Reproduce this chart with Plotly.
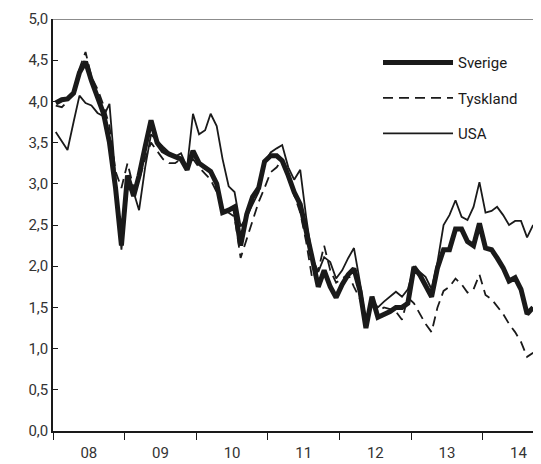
import pandas as pd
import plotly.graph_objects as go

# monthly observations, Jan 2008 - Sep 2014 (plotted mid-month)
months = [d + pd.Timedelta(days=14) for d in pd.date_range("2008-01-01", "2014-09-01", freq="MS")]

sverige = [3.98, 4.02, 4.03, 4.10, 4.35, 4.48, 4.25, 4.05, 3.85, 3.50, 2.95, 2.25,
           3.10, 2.85, 3.10, 3.45, 3.77, 3.50, 3.40, 3.36, 3.33, 3.30, 3.17, 3.40,
           3.25, 3.20, 3.15, 3.00, 2.65, 2.68, 2.72, 2.25, 2.63, 2.84, 2.95, 3.27,
           3.34, 3.34, 3.28, 3.10, 2.90, 2.75, 2.45, 2.10, 1.75, 1.95, 1.75, 1.62,
           1.78, 1.90, 1.97, 1.70, 1.25, 1.63, 1.38, 1.41, 1.45, 1.50, 1.50, 1.55,
           1.99, 1.89, 1.78, 1.63, 1.98, 2.20, 2.20, 2.45, 2.45, 2.30, 2.25, 2.52,
           2.22, 2.20, 2.10, 1.98, 1.82, 1.86, 1.72, 1.42, 1.50]

tyskland = [3.95, 3.93, 4.00, 4.12, 4.40, 4.60, 4.30, 4.15, 3.95, 3.70, 3.15, 2.95,
            3.25, 2.95, 3.05, 3.30, 3.50, 3.40, 3.30, 3.25, 3.25, 3.30, 3.20, 3.30,
            3.20, 3.12, 3.05, 2.90, 2.70, 2.65, 2.60, 2.10, 2.33, 2.55, 2.78, 2.95,
            3.14, 3.20, 3.30, 3.07, 2.85, 2.65, 2.30, 1.85, 1.95, 2.25, 1.95, 1.80,
            1.85, 1.90, 1.75, 1.60, 1.30, 1.55, 1.45, 1.50, 1.48, 1.45, 1.35, 1.62,
            1.55, 1.42, 1.30, 1.20, 1.50, 1.70, 1.75, 1.85, 1.78, 1.68, 1.72, 1.90,
            1.65, 1.60, 1.52, 1.42, 1.30, 1.20, 1.08, 0.90, 0.95]

usa = [3.63, 3.52, 3.41, 3.75, 4.07, 3.98, 3.95, 3.86, 3.82, 3.97, 3.05, 2.20,
       2.95, 2.90, 2.68, 3.20, 3.60, 3.52, 3.45, 3.38, 3.33, 3.37, 3.20, 3.85,
       3.60, 3.65, 3.85, 3.70, 3.30, 2.97, 2.90, 2.48, 2.60, 2.75, 2.90, 3.25,
       3.38, 3.43, 3.47, 3.20, 3.05, 3.17, 2.60, 2.10, 1.93, 2.11, 2.05, 1.85,
       1.95, 2.10, 2.22, 1.80, 1.32, 1.60, 1.50, 1.57, 1.63, 1.69, 1.63, 1.72,
       1.99, 1.93, 1.87, 1.72, 2.05, 2.50, 2.62, 2.80, 2.60, 2.56, 2.72, 3.02,
       2.65, 2.67, 2.72, 2.62, 2.50, 2.55, 2.55, 2.35, 2.50]

font = "Roboto, Liberation Sans, sans-serif"
ink = "#1a1a1a"

fig = go.Figure()
fig.add_trace(go.Scatter(x=months, y=sverige, name="Sverige", mode="lines", legendgroup="a",
                         line=dict(color=ink, width=5)))
fig.add_trace(go.Scatter(x=months, y=tyskland, name="Tyskland", mode="lines", legendgroup="b",
                         line=dict(color=ink, width=1.8, dash="10px,6px")))
fig.add_trace(go.Scatter(x=months, y=usa, name="USA", mode="lines", legendgroup="c",
                         line=dict(color=ink, width=1.8)))

# grey line along the top of the plot area
fig.add_shape(type="line", xref="paper", yref="y", x0=0, x1=1, y0=5, y1=5,
              line=dict(color="#8c8c8c", width=2), layer="below")

# page body keeps an 8px margin, so the figure is 8px smaller than the window
fig.update_layout(
    width=533, height=456,
    margin=dict(l=45, r=0, t=11, b=33),
    plot_bgcolor="white", paper_bgcolor="white",
    separators=", ",
    font=dict(family=font, size=15, color="#333333"),
    showlegend=True,
    legend=dict(x=0.666, y=0.934, xanchor="left", yanchor="top",
                itemwidth=70, tracegroupgap=13, bgcolor="rgba(0,0,0,0)",
                font=dict(family=font, size=15, color=ink)),
)
fig.update_xaxes(
    type="date", range=["2008-01-01", "2014-10-25"],
    tick0="2008-01-01", dtick="M12", tickformat="%y", ticklabelmode="period",
    ticks="outside", ticklen=7, tickcolor=ink, tickwidth=1,
    showline=True, linecolor=ink, linewidth=1.5, showgrid=False, zeroline=False,
)
fig.update_yaxes(
    range=[0, 5], dtick=0.5, tickformat=".1f",
    ticks="inside", ticklen=5, tickcolor=ink,
    showline=True, linecolor=ink, linewidth=1.5, showgrid=False, zeroline=False,
)

fig.write_html("out.html")
